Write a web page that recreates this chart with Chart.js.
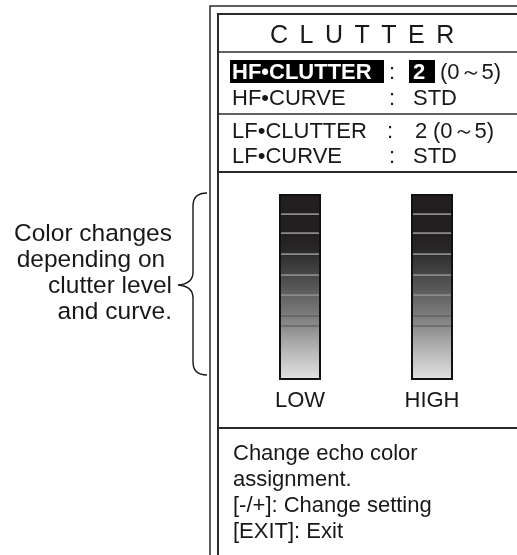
<!DOCTYPE html>
<html>
<head>
<meta charset="utf-8">
<script src="https://cdn.jsdelivr.net/npm/chart.js@4.4.1/dist/chart.umd.min.js"></script>
<style>
  html, body { margin: 0; padding: 0; background: #fff; }
  #wrap { position: relative; width: 517px; height: 555px; overflow: hidden; }
  #wrap canvas { position: absolute; left: 0; top: 0; }
  .t { position: absolute; white-space: nowrap; color: #1a1718;
       font-family: "Liberation Sans", Arial, Helvetica, sans-serif; line-height: 1; }
  .inv { color: #fff; font-weight: bold; }
</style>
</head>
<body>
<div id="wrap">
  <canvas id="clutterChart" width="517" height="555"></canvas>

  <div class="t" style="left:270px; top:22px; font-size:25px; letter-spacing:11.5px;">CLUTTER</div>

  <div class="t inv" style="left:232px; top:61px; font-size:22px;">HF•CLUTTER</div>
  <div class="t" style="left:389px; top:61px; font-size:22px;">:</div>
  <div class="t inv" style="left:413px; top:61px; font-size:22px;">2</div>
  <div class="t" style="left:440px; top:61px; font-size:22px;">(0～5)</div>

  <div class="t" style="left:232px; top:87px; font-size:22px;">HF•CURVE</div>
  <div class="t" style="left:389px; top:87px; font-size:22px;">:</div>
  <div class="t" style="left:413px; top:87px; font-size:22px;">STD</div>

  <div class="t" style="left:232px; top:120px; font-size:22px;">LF•CLUTTER</div>
  <div class="t" style="left:387px; top:120px; font-size:22px;">:</div>
  <div class="t" style="left:415px; top:120px; font-size:22px;">2</div>
  <div class="t" style="left:433px; top:120px; font-size:22px;">(0～5)</div>

  <div class="t" style="left:232px; top:145px; font-size:22px;">LF•CURVE</div>
  <div class="t" style="left:389px; top:145px; font-size:22px;">:</div>
  <div class="t" style="left:413px; top:145px; font-size:22px;">STD</div>

  <div class="t" style="right:345px; top:221px; font-size:24.5px; text-align:right;">Color changes</div>
  <div class="t" style="right:345px; top:247px; font-size:24.5px; text-align:right;">depending on&nbsp;</div>
  <div class="t" style="right:345px; top:273px; font-size:24.5px; text-align:right;">clutter level</div>
  <div class="t" style="right:345px; top:299px; font-size:24.5px; text-align:right;">and curve.</div>

  <div class="t" style="left:233px; top:442px; font-size:22px;">Change echo color</div>
  <div class="t" style="left:233px; top:468px; font-size:22px;">assignment.</div>
  <div class="t" style="left:233px; top:494px; font-size:22px;">[-/+]: Change setting</div>
  <div class="t" style="left:233px; top:520px; font-size:22px;">[EXIT]: Exit</div>
</div>

<script>
// Bar categories and colour bands (bottom to top, in level units)
const categories = ["LOW", "HIGH"];
const lowBands  = [5.2, 1.0, 2.1, 2.0, 2.1, 2.1, 1.9, 2.0];
const highBands = [5.2, 1.0, 2.1, 2.0, 2.1, 2.1, 1.9, 2.0];
const bandTotal = 18.4;

const ink = "#1a1718";

// Dark-to-light fill shared by all bands, so the bar reads as one column
let fillGrad = null;
function bandFill(context) {
    const chart = context.chart;
    const area = chart.chartArea;
    if (!area) return "#555";
    if (!fillGrad) {
        const g = chart.ctx.createLinearGradient(0, area.top, 0, area.bottom);
        g.addColorStop(0, "#231f20");
        g.addColorStop(0.22, "#231f20");
        g.addColorStop(0.3, "#2a2728");
        g.addColorStop(0.45, "#4b4b4b");
        g.addColorStop(0.6, "#6f6f70");
        g.addColorStop(0.72, "#8d8d8e");
        g.addColorStop(0.8, "#a8a8a9");
        g.addColorStop(1, "#e2e2e3");
        fillGrad = g;
    }
    return fillGrad;
}

// separator lines: darker grey on the light bottom, light grey on the dark top
const datasets = lowBands.map((v, i) => ({
    label: "band " + (i + 1),
    data: [lowBands[i], highBands[i]],
    backgroundColor: bandFill,
    borderColor: i <= 2 ? "#666667" : "#8a8a8b",
    borderWidth: i === 0 ? 0 : { top: 0, bottom: 2, left: 0, right: 0 },
    borderSkipped: false,
    barThickness: 40,
    stack: "s"
}));

function hline(ctx, x1, x2, y, w) {
    ctx.lineWidth = w;
    ctx.beginPath();
    ctx.moveTo(x1, y);
    ctx.lineTo(x2, y);
    ctx.stroke();
}

// Menu frame, highlight boxes and the brace
const framePlugin = {
    id: "frame",
    beforeDraw(chart) {
        const ctx = chart.ctx;
        ctx.save();
        ctx.fillStyle = "#fff";
        ctx.fillRect(0, 0, chart.width, chart.height);

        ctx.strokeStyle = "#2a2a2a";
        // outer frame
        ctx.lineWidth = 1.5;
        ctx.beginPath();
        ctx.moveTo(210, 555);
        ctx.lineTo(210, 6);
        ctx.lineTo(517, 6);
        ctx.stroke();
        // inner frame
        ctx.lineWidth = 2;
        ctx.beginPath();
        ctx.moveTo(218, 555);
        ctx.lineTo(218, 14);
        ctx.lineTo(517, 14);
        ctx.stroke();
        // separators
        hline(ctx, 218, 517, 52, 1.5);
        hline(ctx, 218, 517, 114, 1.5);
        hline(ctx, 218, 517, 172, 2);
        hline(ctx, 218, 517, 428, 2);

        // highlight boxes
        ctx.fillStyle = "#000";
        ctx.fillRect(230, 60, 154, 23);
        ctx.fillRect(409, 60, 26, 23);

        // brace
        ctx.strokeStyle = ink;
        ctx.lineWidth = 1.4;
        ctx.beginPath();
        ctx.moveTo(207, 193);
        ctx.quadraticCurveTo(193, 193, 193, 206);
        ctx.lineTo(193, 272);
        ctx.quadraticCurveTo(193, 284, 178, 285);
        ctx.quadraticCurveTo(193, 286, 193, 298);
        ctx.lineTo(193, 362);
        ctx.quadraticCurveTo(193, 375, 207, 375);
        ctx.stroke();
        ctx.restore();
    },
    afterDatasetsDraw(chart) {
        const ctx = chart.ctx;
        const first = chart.getDatasetMeta(0).data;
        const last = chart.getDatasetMeta(chart.data.datasets.length - 1).data;
        ctx.save();
        ctx.strokeStyle = "#111";
        ctx.lineWidth = 2;
        first.forEach((bar, i) => {
            const top = last[i].y;
            const w = bar.width;
            ctx.strokeRect(bar.x - w / 2, top, w, bar.base - top);
        });
        ctx.restore();
    }
};

new Chart(document.getElementById("clutterChart"), {
    type: "bar",
    data: { labels: categories, datasets: datasets },
    options: {
        responsive: false,
        animation: false,
        devicePixelRatio: 1,
        layout: { padding: { left: 234, right: 19, top: 195, bottom: 136 } },
        plugins: { legend: { display: false }, tooltip: { enabled: false } },
        scales: {
            x: {
                stacked: true,
                grid: { display: false, drawTicks: false },
                border: { display: false },
                ticks: {
                    color: ink,
                    padding: 9,
                    font: { family: "'Liberation Sans', Arial, sans-serif", size: 22 }
                },
                afterFit(scale) { scale.height = 40; }
            },
            y: {
                stacked: true,
                display: false,
                min: 0,
                max: bandTotal
            }
        }
    },
    plugins: [framePlugin]
});
</script>
</body>
</html>
